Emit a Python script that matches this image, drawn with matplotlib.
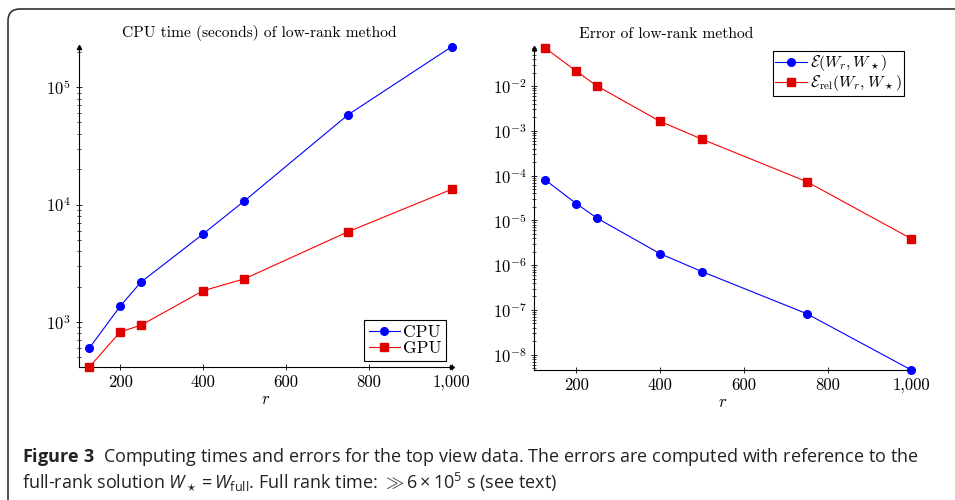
import math
import matplotlib
matplotlib.use("Agg")
import matplotlib.pyplot as plt
from matplotlib.ticker import LogLocator, FuncFormatter, NullLocator, NullFormatter
from matplotlib.patches import FancyBboxPatch
from matplotlib.transforms import IdentityTransform
from matplotlib.font_manager import FontProperties

plt.rcParams['mathtext.fontset'] = 'cm'
plt.rcParams['font.family'] = ['cmr10', 'DejaVu Serif']
plt.rcParams['axes.formatter.use_mathtext'] = True
# fuentes "custom" solo para el pie de figura
plt.rcParams['mathtext.rm'] = 'Open Sans'
plt.rcParams['mathtext.it'] = 'Open Sans:italic'
plt.rcParams['mathtext.bf'] = 'Open Sans:bold'

# datos
rango = [125, 200, 250, 400, 500, 750, 1000]
t_cpu = [595, 1360, 2180, 5610, 10750, 58200, 221000]
t_gpu = [411, 822, 937, 1845, 2330, 5870, 13480]
err_abs = [8.15e-5, 2.38e-5, 1.12e-5, 1.81e-6, 7.21e-7, 8.3e-8, 4.57e-9]
err_rel = [7.18e-2, 2.15e-2, 1.0e-2, 1.63e-3, 6.52e-4, 7.36e-5, 3.9e-6]
xticks = [200, 400, 600, 800, 1000]

AZUL = '#0000ff'
ROJO = '#ff0000'

fig = plt.figure(figsize=(9.55, 5.0), dpi=100)

ax1 = fig.add_axes([78.7/955, 1-367.3/500, 373/955, 320.6/500])
ax2 = fig.add_axes([534.3/955, 1-370/500, 377/955, 322.3/500])


def estilo(ax, ymin, ymax):
    ax.set_yscale('log')
    ax.set_xlim(100, 1000)
    ax.set_ylim(ymin, ymax)
    for s in ['top', 'right']:
        ax.spines[s].set_visible(False)
    for s in ['left', 'bottom']:
        ax.spines[s].set_linewidth(0.8)
    ax.set_xticks(xticks)
    ax.xaxis.set_major_formatter(FuncFormatter(lambda v, p: '{:,}'.format(int(v))))
    ax.xaxis.set_minor_locator(NullLocator())
    ax.yaxis.set_major_locator(LogLocator(base=10, numticks=20))
    ax.yaxis.set_minor_locator(LogLocator(base=10, subs=range(2, 10), numticks=20))
    ax.yaxis.set_minor_formatter(NullFormatter())
    ax.yaxis.set_major_formatter(FuncFormatter(lambda v, p: r'$10^{%d}$' % round(math.log10(v))))
    ax.tick_params(which='major', direction='inout', length=5, width=0.6, labelsize=12, pad=3)
    ax.tick_params(which='minor', direction='inout', length=3.5, width=0.5)
    ax.tick_params(axis='x', pad=3)
    # flechas de los ejes
    ax.plot(1, 0, '>', color='black', ms=3, transform=ax.transAxes, clip_on=False)
    ax.plot(0, 1, '^', color='black', ms=3, transform=ax.transAxes, clip_on=False)
    ax.set_xlabel('$r$', fontsize=12, labelpad=1)


estilo(ax1, 411, 2.21e5)
ax1.plot(rango, t_cpu, '-o', color=AZUL, lw=0.8, ms=5.5, clip_on=False, zorder=5, label='CPU')
ax1.plot(rango, t_gpu, '-s', color=ROJO, mfc='#e00000', mec='#e00000', lw=0.8, ms=5.5,
         clip_on=False, zorder=5, label='GPU')
ax1.set_title('CPU time (seconds) of low-rank method', fontsize=11.2, x=0.483, pad=7)
ax1.legend(loc='lower right', bbox_to_anchor=(0.995, 0.01), fontsize=12.5, fancybox=False,
           edgecolor='black', framealpha=1, borderpad=0.25, handlelength=1.8,
           handletextpad=0.2, labelspacing=0.05, borderaxespad=0.2).get_frame().set_linewidth(0.8)

estilo(ax2, 4.57e-9, 7.18e-2)
ax2.plot(rango, err_abs, '-o', color=AZUL, lw=0.8, ms=5.5, clip_on=False, zorder=5,
         label=r'$\mathcal{E}(W_r, W_\star)$')
ax2.plot(rango, err_rel, '-s', color=ROJO, mfc='#e00000', mec='#e00000', lw=0.8, ms=5.5,
         clip_on=False, zorder=5, label=r'$\mathcal{E}_{\mathrm{rel}}(W_r, W_\star)$')
ax2.set_title('Error of low-rank method', fontsize=11.2, x=0.349, pad=7)
ax2.legend(loc='upper right', bbox_to_anchor=(0.99, 1.0), fontsize=11.5, fancybox=False,
           edgecolor='black', framealpha=1, borderpad=0.15, handlelength=2.0,
           handletextpad=0.2, labelspacing=0.0, borderaxespad=0.2).get_frame().set_linewidth(0.8)

# marco redondeado
marco = FancyBboxPatch((8, -60), 1100, 500 - 9 + 60, boxstyle='round,pad=0,rounding_size=12',
                       transform=IdentityTransform(), fill=False, edgecolor='#333333', lw=1.2)
fig.add_artist(marco)

# pie de figura (un solo texto, dos lineas; el ancla es la base de la ultima linea)
pie = (r'$\mathbf{Figure\ 3}$  Computing times and errors for the top view data. '
       r'The errors are computed with reference to the' + '\n' +
       r'full-rank solution $W_\star = W_{\mathrm{full}}$. Full rank time: '
       r'$\gg 6 \times 10^5$ s (see text)')
fp = FontProperties(family=['Open Sans', 'DejaVu Sans'], size=13.0, math_fontfamily='custom')
fig.text(22/955, 1-488/500, pie, fontproperties=fp, va='baseline', ha='left',
         linespacing=1.12, color='#222222')

fig.savefig('out.png', dpi=100)
